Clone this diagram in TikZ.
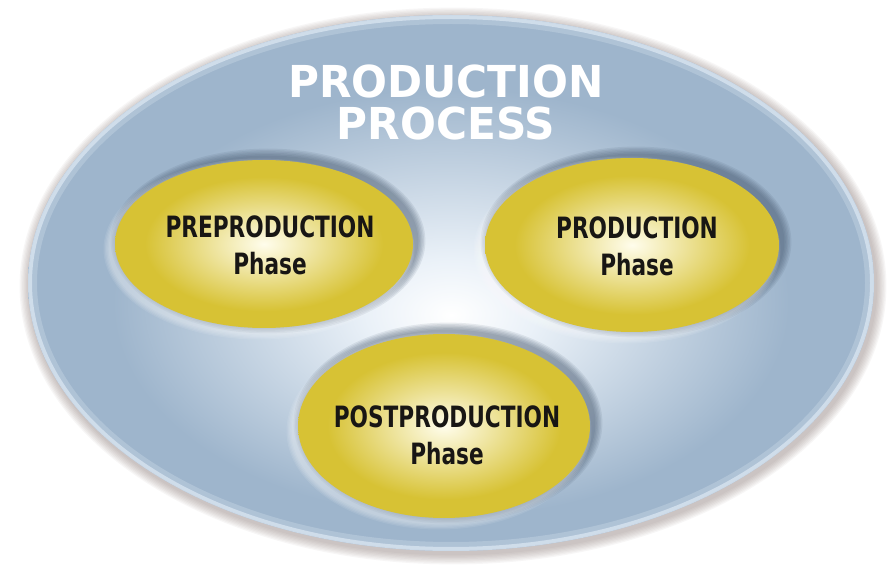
\documentclass[tikz,border=0pt]{standalone}
\usepackage{fontspec}
\usepackage{graphicx}

\newfontfamily\titlefont{DejaVu Sans}
\newfontfamily\phasefont{DejaVu Sans Condensed}

\definecolor{shellblue}{RGB}{158,181,204}
\definecolor{shellrim}{RGB}{216,228,240}
\definecolor{haze}{RGB}{234,241,248}
\definecolor{halo}{RGB}{128,110,106}
\definecolor{phaseyellow}{RGB}{215,194,52}
\definecolor{phaseedge}{RGB}{190,170,34}
\definecolor{phasecore}{RGB}{255,253,236}
\definecolor{dropshade}{RGB}{62,80,102}
\definecolor{inktext}{RGB}{24,22,20}

\pgfdeclareradialshading{shellglow}{\pgfpoint{0bp}{-3bp}}{%
  color(0bp)=(white); color(5bp)=(haze); color(20bp)=(shellblue); color(50bp)=(shellblue)}
\pgfdeclareradialshading{phaseglow}{\pgfpointorigin}{%
  color(0bp)=(phasecore); color(20bp)=(phaseyellow); color(45bp)=(phaseyellow); color(50bp)=(phaseedge)}

\newcommand{\narrowtext}[1]{\scalebox{0.82}[1]{#1}}
\newcommand{\widetitle}[1]{\scalebox{0.96}[1]{#1}}

\tikzset{every picture/.style={line width=0.75pt}}
\tikzset{
  titletext/.style={inner sep=0pt, align=center, text=white, font=\titlefont\bfseries\fontsize{33}{31.5}\selectfont},
  phaselabel/.style={inner sep=0pt, align=center, text=inktext, font=\phasefont\bfseries\fontsize{22}{28}\selectfont}
}

\begin{document}
\begin{tikzpicture}[x=0.75pt,y=0.75pt,yscale=-1,xscale=1]
\fill[white] (0,0) rectangle (889,566);
\useasboundingbox (0,0) rectangle (889,566);

%Shape: Ellipse halo
\foreach \g in {1,...,8}
  \fill[halo, opacity=0.06] (453,286) ellipse [x radius=423+\g*1.3, y radius=268+\g*1.3];
%Shape: Ellipse [process]
\shade[shading=shellglow] (451,283) ellipse [x radius=423, y radius=268];
\draw[shellrim, line width=3, opacity=0.8] (451,283) ellipse [x radius=421, y radius=266];
\draw[shellrim, line width=6, opacity=0.3] (451,283) ellipse [x radius=418, y radius=263];

% Text Node
\node[titletext] (title) at (446,102) {\widetitle{PRODUCTION}\\\widetitle{PROCESS}};

%Shape: Ellipse shadows [phases]
\foreach \cx/\cy/\rx/\ry in {264/244/149/84, 632/245/147/87, 444/426/146/92} {
  \foreach \g in {1,...,6}
    \fill[dropshade, opacity=0.1] (\cx+4,\cy-3) ellipse [x radius=\rx+\g*1.4, y radius=\ry+\g*1.4];
  \foreach \g in {1,...,5}
    \fill[white, opacity=0.09] (\cx-5,\cy+5) ellipse [x radius=\rx+\g*1.3, y radius=\ry+\g*1.3];
}
%Shape: Ellipse [phases]
\foreach \cx/\cy/\rx/\ry in {264/244/149/84, 632/245/147/87, 444/426/146/92}
  \shade[shading=phaseglow] (\cx,\cy) ellipse [x radius=\rx, y radius=\ry];

% Text Node
\node[phaselabel] (pretext) at (270,245) {\narrowtext{PREPRODUCTION}\\\narrowtext{Phase}};
% Text Node
\node[phaselabel] (prodtext) at (637,246) {\narrowtext{PRODUCTION}\\\narrowtext{Phase}};
% Text Node
\node[phaselabel] (posttext) at (447,435) {\narrowtext{POSTPRODUCTION}\\\narrowtext{Phase}};

\end{tikzpicture}
\end{document}
